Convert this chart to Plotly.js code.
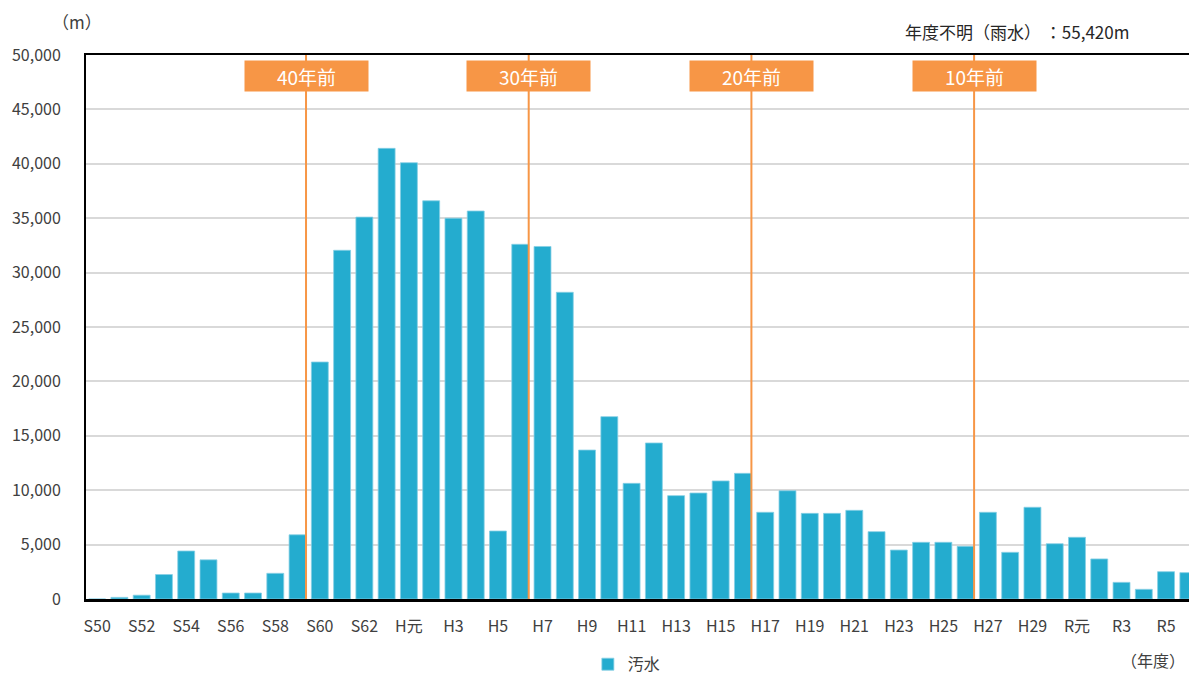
<!DOCTYPE html>
<html>
<head>
<meta charset="utf-8">
<script src="https://cdn.plot.ly/plotly-3.0.1.min.js"></script>
<style>html,body{margin:0;padding:0;background:#fff;}#chart{width:1189px;height:675px;}</style>
</head>
<body>
<div id="chart"></div>
<script>
const years = ['S50','S51','S52','S53','S54','S55','S56','S57','S58','S59','S60','S61','S62','S63',
  'H元','H2','H3','H4','H5','H6','H7','H8','H9','H10','H11','H12','H13','H14','H15','H16','H17','H18','H19','H20',
  'H21','H22','H23','H24','H25','H26','H27','H28','H29','H30','R元','R2','R3','R4','R5','R6'];
const sewage = [0,150,350,2250,4410,3600,550,550,2360,5900,21780,32050,35100,41420,
  40100,36600,35000,35660,6250,32600,32400,28190,13690,16760,10630,14340,9500,9740,10850,11550,7970,9950,7870,7870,
  8150,6190,4500,5210,5210,4840,7970,4290,8430,5080,5670,3680,1530,890,2510,2420];
const tickLabels = ['S50','S52','S54','S56','S58','S60','S62','H元','H3','H5','H7','H9','H11','H13','H15','H17','H19',
  'H21','H23','H25','H27','H29','R元','R3','R5'];
const markerYears = ['S59','H6','H16','H26'];
const markerLabels = ['40年前','30年前','20年前','10年前'];
const seriesName = '汚水';
const unknownNote = '年度不明（雨水） ：55,420m';

const FONT = '"Noto Sans CJK JP", "Noto Sans", sans-serif';
const ORANGE = '#F79646';

const shapes = markerYears.map(y => ({
  type: 'line', xref: 'x', yref: 'paper',
  x0: years.indexOf(y) + 0.38, x1: years.indexOf(y) + 0.38, y0: 0, y1: 1,
  line: {color: ORANGE, width: 2}, layer: 'above'
}));
const annotations = markerYears.map((y, i) => ({
  xref: 'x', yref: 'paper', x: years.indexOf(y) + 0.38, y: 0.9614,
  xanchor: 'center', yanchor: 'middle', text: markerLabels[i], showarrow: false,
  bgcolor: ORANGE, width: 123, height: 30, borderpad: 0,
  font: {family: FONT, size: 19, color: '#ffffff'}
}));
annotations.push({xref: 'paper', yref: 'paper', x: -0.008, y: 1.0, yshift: 34, xanchor: 'center', yanchor: 'middle',
  text: '（m）', showarrow: false, font: {family: FONT, size: 17, color: '#404040'}});
annotations.push({xref: 'paper', yref: 'paper', x: 0.947, y: 1.0, yshift: 24, xanchor: 'right', yanchor: 'middle',
  text: unknownNote, showarrow: false, font: {family: FONT, size: 17, color: '#262626'}});
annotations.push({xref: 'paper', yref: 'paper', x: 0.989, y: 0, yshift: -61, xshift: 10, xanchor: 'right', yanchor: 'middle',
  text: '（年度）', showarrow: false, font: {family: FONT, size: 16, color: '#404040'}});

const trace = {
  type: 'bar', x: years, y: sewage, name: seriesName,
  marker: {color: '#24ACCF', line: {color: '#86CFE4', width: 0.8}},
  hoverinfo: 'x+y'
};

const layout = {
  width: 1189, height: 675,
  margin: {l: 86, r: 0, t: 55, b: 76, pad: 0, autoexpand: false},
  paper_bgcolor: '#ffffff', plot_bgcolor: '#ffffff',
  font: {family: FONT, color: '#404040', size: 16},
  bargap: 0.24,
  showlegend: true,
  legend: {orientation: 'h', x: 0.455, xanchor: 'left', y: -0.12, yanchor: 'middle',
    font: {family: FONT, size: 16, color: '#404040'}, itemwidth: 30, bgcolor: 'rgba(0,0,0,0)'},
  xaxis: {
    type: 'category', categoryorder: 'array', categoryarray: years,
    range: [-0.5, 49.03], tickmode: 'array', tickvals: tickLabels, ticktext: tickLabels,
    showline: true, linecolor: '#000000', linewidth: 2.5, mirror: true,
    ticks: '', ticklabelstandoff: 11, showgrid: false, automargin: false,
    tickfont: {family: FONT, size: 16, color: '#404040'}, tickangle: 0
  },
  yaxis: {
    range: [0, 50000], dtick: 5000, tick0: 0, tickformat: ',d', automargin: false,
    showline: true, linecolor: '#000000', linewidth: 2,
    showgrid: true, gridcolor: '#D9D9D9', gridwidth: 2, zeroline: false,
    ticks: '', ticklabelstandoff: 20,
    tickfont: {family: FONT, size: 16, color: '#404040'}
  },
  shapes: shapes,
  annotations: annotations
};

Plotly.newPlot('chart', [trace], layout, {displayModeBar: false, staticPlot: true});
</script>
</body>
</html>
